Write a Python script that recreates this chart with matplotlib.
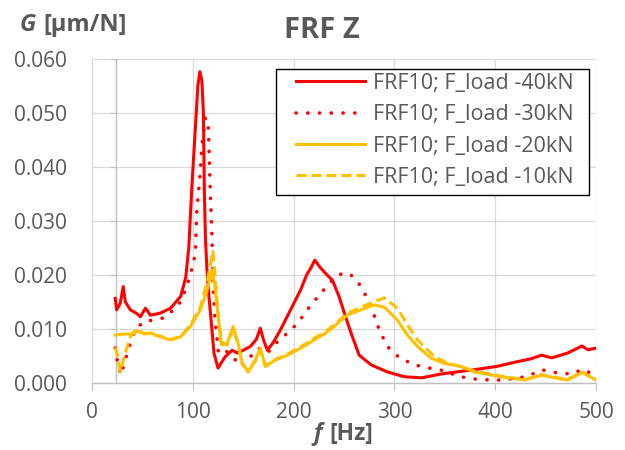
import numpy as np
import matplotlib
matplotlib.use('Agg')
import matplotlib.pyplot as plt
from matplotlib.patches import Rectangle

plt.rcParams['font.family'] = ['Open Sans', 'DejaVu Sans']

# FRF10, F_load -40kN
f40 = [23, 24.5, 28, 31, 33, 38, 44.5, 48, 53, 58, 68, 78, 88, 93, 96, 99, 102.5, 105, 107, 109,
       110.5, 111.5, 112.5, 114, 116, 119, 121, 125, 132, 139, 144, 150, 157, 163, 167, 170, 174,
       180, 187, 197, 207, 213, 217, 221, 227, 233, 238.5, 245, 250, 257, 265, 277, 293, 310, 327,
       346, 366, 379, 401, 422, 435, 446, 456, 472, 486, 492, 500]
g40 = [0.0156, 0.0135, 0.0147, 0.0178, 0.0150, 0.0135, 0.0128, 0.0122, 0.0138, 0.0125, 0.0129,
       0.0138, 0.0160, 0.0195, 0.0250, 0.0360, 0.0470, 0.0550, 0.0576, 0.0560, 0.0500, 0.0350,
       0.0270, 0.0210, 0.0160, 0.0098, 0.0055, 0.0027, 0.0048, 0.0060, 0.0055, 0.0060, 0.0067,
       0.0080, 0.0101, 0.0080, 0.0060, 0.0075, 0.0098, 0.0135, 0.0172, 0.0200, 0.0212, 0.0227,
       0.0212, 0.0200, 0.0190, 0.0160, 0.0131, 0.0092, 0.0051, 0.0033, 0.0020, 0.0011, 0.0009,
       0.0016, 0.0021, 0.0024, 0.0030, 0.0039, 0.0044, 0.0051, 0.0046, 0.0055, 0.0068, 0.0061,
       0.0064]

# FRF10, F_load -30kN
f30 = [23, 25, 28.5, 33, 38, 43, 51, 61, 71, 81, 88, 94, 100.5, 102.5, 104, 107.5, 109, 112.5,
       114, 115.5, 117.4, 119, 120, 122, 125.5, 132, 140, 147, 157, 165, 174, 184, 194, 204,
       213.5, 220, 230, 238.5, 248.5, 256, 262, 268, 277, 285, 293, 305, 320, 335, 350, 363, 378,
       396, 406, 420, 432.5, 446, 462, 477, 486, 492, 500]
g30 = [0.0064, 0.0042, 0.0014, 0.0042, 0.0073, 0.0098, 0.0113, 0.0116, 0.0120, 0.0135, 0.0150,
       0.0178, 0.0220, 0.0240, 0.0320, 0.0390, 0.0440, 0.0490, 0.0490, 0.0470, 0.0350, 0.0270,
       0.0190, 0.0116, 0.0055, 0.0060, 0.0048, 0.0030, 0.0048, 0.0064, 0.0055, 0.0076, 0.0092,
       0.0110, 0.0135, 0.0150, 0.0172, 0.0190, 0.0203, 0.0201, 0.0190, 0.0175, 0.0140, 0.0098,
       0.0067, 0.0046, 0.0033, 0.0027, 0.0022, 0.0012, 0.0007, 0.0005, 0.0005, 0.0008, 0.0012,
       0.0024, 0.0018, 0.0016, 0.0025, 0.0020, 0.0015]

# FRF10, F_load -20kN
f20 = [23, 30, 41, 44.5, 52, 58, 68, 78, 88, 97.5, 107.5, 114, 119, 122, 125.5, 128.5, 134, 140,
       145, 149, 155, 162, 167, 172, 182, 194, 207, 215, 220, 232, 242, 253, 267, 280, 290, 303,
       313, 323, 336, 349, 366, 379, 406, 429, 446, 459, 472, 486, 500]
g20 = [0.0088, 0.0090, 0.0090, 0.0096, 0.0090, 0.0092, 0.0085, 0.0079, 0.0085, 0.0104, 0.0135,
       0.0170, 0.0209, 0.0178, 0.0116, 0.0070, 0.0073, 0.0104, 0.0073, 0.0036, 0.0020, 0.0042,
       0.0064, 0.0030, 0.0042, 0.0051, 0.0064, 0.0073, 0.0079, 0.0092, 0.0107, 0.0125, 0.0135,
       0.0144, 0.0140, 0.0116, 0.0088, 0.0067, 0.0046, 0.0036, 0.0030, 0.0020, 0.0011, 0.0005,
       0.0014, 0.0009, 0.0005, 0.0019, 0.0005]

# FRF10, F_load -10kN
f10 = [23, 24.5, 28, 33, 38, 43, 52, 58, 68, 78, 88, 97.5, 107.5, 114, 120, 122, 125.5, 128.5,
       134, 140, 145, 149, 155, 162, 167, 172, 182, 194, 207, 215, 220, 232, 242, 253, 267, 280,
       290, 303, 313, 323, 340, 353, 366, 379, 406, 429, 446, 459, 472, 486, 500]
g10 = [0.0065, 0.0057, 0.0020, 0.0055, 0.0085, 0.0098, 0.0092, 0.0090, 0.0086, 0.0080, 0.0086,
       0.0106, 0.0140, 0.0185, 0.0243, 0.0200, 0.0120, 0.0075, 0.0070, 0.0100, 0.0070, 0.0035,
       0.0022, 0.0040, 0.0060, 0.0032, 0.0043, 0.0053, 0.0067, 0.0075, 0.0082, 0.0095, 0.0110,
       0.0128, 0.0140, 0.0150, 0.0157, 0.0138, 0.0107, 0.0079, 0.0048, 0.0036, 0.0030, 0.0022,
       0.0012, 0.0006, 0.0015, 0.0010, 0.0006, 0.0020, 0.0006]

labels = ['FRF10; F_load -40kN', 'FRF10; F_load -30kN',
          'FRF10; F_load -20kN', 'FRF10; F_load -10kN']
xticks = [0, 100, 200, 300, 400, 500]
yticks = [0.0, 0.01, 0.02, 0.03, 0.04, 0.05, 0.06]
y_cross = 23.5  # where the vertical axis crosses (Hz)

RED = '#FF0000'
YEL = '#FFC000'
TXT = '#595959'
AX = '#BFBFBF'

fig = plt.figure(figsize=(6.25, 4.5), dpi=100)
ax = fig.add_axes([92 / 625, 1 - 382.7 / 450, 504 / 625, 324 / 450])

lw = 2.2
ax.plot(f40, g40, color=RED, lw=lw, label=labels[0], solid_joinstyle='round')
ax.plot(f30, g30, color=RED, lw=2.6, linestyle=(0, (0.05, 3.2)),
        dash_capstyle='round', label=labels[1])
ax.plot(f20, g20, color=YEL, lw=lw, label=labels[2], solid_joinstyle='round')
ax.plot(f10, g10, color=YEL, lw=lw, linestyle=(0, (3.3, 1.6)), label=labels[3])

ax.set_xlim(0, 500)
ax.set_ylim(0, 0.06)
ax.set_xticks(xticks)
ax.set_yticks(yticks)
ax.set_yticklabels(['%.3f' % v for v in yticks])
ax.grid(True, color='#D9D9D9', lw=0.9)
ax.set_axisbelow(True)

for s in ['top', 'right', 'left']:
    ax.spines[s].set_visible(False)
ax.spines['bottom'].set_color(AX)
ax.spines['bottom'].set_linewidth(1.0)
ax.tick_params(axis='y', length=0, pad=18, labelsize=15, labelcolor=TXT)
ax.tick_params(axis='x', length=5, color=AX, pad=9, labelsize=15, labelcolor=TXT)

# vertical axis line crossing at the first frequency
sec = ax.secondary_yaxis(y_cross / 500)
sec.set_yticks(yticks)
sec.set_yticklabels([])
sec.spines['left'].set_color(AX)
sec.spines['left'].set_linewidth(1.0)
sec.tick_params(axis='y', length=4, color=AX)
sec.set_zorder(0.5)

# legend with a separate box (wider side padding than top/bottom)
leg = ax.legend(loc='upper left', bbox_to_anchor=(296 / 625, 1 - 73 / 450),
                bbox_transform=fig.transFigure, borderaxespad=0, borderpad=0,
                fontsize=15.5, handlelength=3.2, handletextpad=0.37,
                labelspacing=0.48, frameon=False)
for t in leg.get_texts():
    t.set_color(TXT)
leg.set_zorder(6)
box = Rectangle((276 / 625, 1 - 195 / 450), 313 / 625, 126 / 450,
                transform=fig.transFigure, facecolor='white', edgecolor='#000000',
                lw=1.0, zorder=5, clip_on=False)
ax.add_patch(box)

fig.text(322 / 625, 1 - 38 / 450, 'FRF Z', ha='center', va='baseline',
         fontsize=21, fontweight='bold', color=TXT)
fig.text(20 / 625, 1 - 31 / 450, 'G', ha='left', va='baseline', fontsize=17,
         fontweight='bold', fontstyle='italic', color=TXT)
fig.text(43 / 625, 1 - 31 / 450, '[µm/N]', ha='left', va='baseline', fontsize=17,
         fontweight='bold', color=TXT)
fig.text(313 / 625, 1 - 440 / 450, 'f', ha='left', va='baseline', fontsize=16.5,
         fontweight='bold', fontstyle='italic', color=TXT)
fig.text(329 / 625, 1 - 440 / 450, '[Hz]', ha='left', va='baseline', fontsize=16.5,
         fontweight='bold', color=TXT)

fig.savefig('out.png', dpi=100)
